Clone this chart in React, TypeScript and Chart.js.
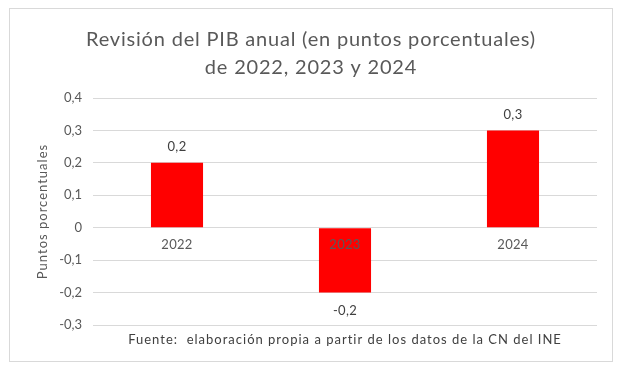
import React, { useEffect, useRef } from "react";
import { Chart, registerables } from "chart.js";

Chart.register(...registerables);

const categories = ["2022", "2023", "2024"];
const values = [0.2, -0.2, 0.3];
const yTicks = [-0.3, -0.2, -0.1, 0, 0.1, 0.2, 0.3, 0.4];
const titleLines = ["Revisión del PIB anual (en puntos porcentuales)", "de 2022, 2023 y 2024"];
const yTitle = "Puntos porcentuales";
const footnote = "Fuente:  elaboración propia a partir de los datos de la CN del INE";

const FONT = "Lato, 'Noto Sans', sans-serif";
const fmt = (v: number) => {
  const r = Math.round(v * 10) / 10;
  return String(r).replace(".", ",");
};

const decorPlugin = {
  id: "decor",
  beforeDraw(chart: any) {
    const ctx = chart.ctx;
    ctx.save();
    ctx.fillStyle = "#ffffff";
    ctx.fillRect(0, 0, chart.width, chart.height);
    ctx.strokeStyle = "#d9d9d9";
    ctx.lineWidth = 1;
    ctx.strokeRect(9.5, 8.5, 603, 353);
    ctx.restore();
  },
  afterDatasetsDraw(chart: any) {
    const ctx = chart.ctx;
    const area = chart.chartArea;
    const xs = chart.scales.x;
    const ys = chart.scales.y;
    ctx.save();
    ctx.textAlign = "center";
    ctx.textBaseline = "middle";
    // title
    ctx.fillStyle = "#595959";
    ctx.font = `20px ${FONT}`;
    ctx.letterSpacing = "0.8px";
    const cx = 311;
    ctx.fillText(titleLines[0], cx, 40);
    ctx.fillText(titleLines[1], cx, 68);
    // y title
    ctx.save();
    ctx.translate(43, (area.top + area.bottom) / 2);
    ctx.rotate(-Math.PI / 2);
    ctx.font = `13px ${FONT}`;
    ctx.letterSpacing = "1px";
    ctx.fillStyle = "#595959";
    ctx.fillText(yTitle, 0, 0);
    ctx.restore();
    // category labels at zero line
    const y0 = ys.getPixelForValue(0);
    ctx.font = `13px ${FONT}`;
    ctx.letterSpacing = "0.3px";
    ctx.fillStyle = "#595959";
    categories.forEach((c, i) => {
      ctx.fillText(c, xs.getPixelForValue(i), y0 + 17);
    });
    // data labels
    ctx.fillStyle = "#404040";
    ctx.font = `13px ${FONT}`;
    values.forEach((v, i) => {
      const x = xs.getPixelForValue(i);
      const y = ys.getPixelForValue(v);
      ctx.fillText(fmt(v), x, v >= 0 ? y - 16 : y + 18);
    });
    // footnote
    ctx.font = `13px ${FONT}`;
    ctx.letterSpacing = "1px";
    ctx.fillStyle = "#404040";
    ctx.fillText(footnote, (area.left + area.right) / 2, 340);
    ctx.restore();
  },
};

export default function App() {
  const ref = useRef<HTMLCanvasElement | null>(null);
  useEffect(() => {
    if (!ref.current) return;
    const chart = new Chart(ref.current, {
      type: "bar",
      data: {
        labels: categories,
        datasets: [
          {
            data: values,
            backgroundColor: "#ff0000",
            borderWidth: 0,
            barPercentage: 0.31,
            categoryPercentage: 1,
          },
        ],
      },
      options: {
        animation: false,
        responsive: false,
        devicePixelRatio: 1,
        layout: { padding: { top: 98, bottom: 46, left: 0, right: 27 } },
        plugins: { legend: { display: false }, tooltip: { enabled: false }, title: { display: false } },
        scales: {
          x: { display: false },
          y: {
            min: -0.3,
            max: 0.4,
            afterFit(scale: any) {
              scale.width = 93;
            },
            afterBuildTicks(scale: any) {
              scale.ticks = yTicks.map((v) => ({ value: v }));
            },
            border: { display: false },
            grid: { color: "#d9d9d9", lineWidth: 1, drawTicks: false },
            ticks: {
              padding: 11,
              color: "#595959",
              font: { family: FONT, size: 13 },
              callback: (v: any) => fmt(Number(v)),
            },
          },
        },
      },
      plugins: [decorPlugin],
    });
    return () => chart.destroy();
  }, []);
  return (
    <div style={{ position: "fixed", left: 0, top: 0, width: 624, height: 371 }}>
      <canvas ref={ref} width={624} height={371} style={{ display: "block", width: 624, height: 371 }} />
    </div>
  );
}
